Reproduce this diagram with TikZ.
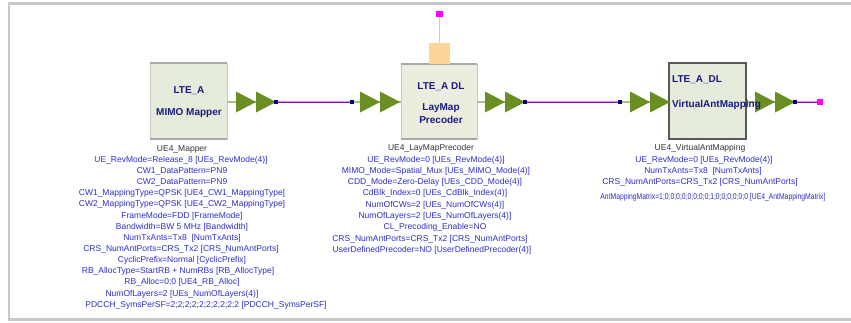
\documentclass[tikz,border=0pt]{standalone}
\usepackage{fontspec}
\setmainfont{Liberation Sans}
\definecolor{framegrey}{HTML}{C8C8C8}
\definecolor{blkA}{HTML}{E6ECDC}
\definecolor{blkB}{HTML}{ECECDF}
\definecolor{titleblue}{HTML}{1A1A80}
\definecolor{parblue}{HTML}{2E2ECC}
\definecolor{instgrey}{HTML}{333333}
\definecolor{pingreen}{HTML}{6B8E23}
\definecolor{pinwire}{HTML}{A8C080}
\definecolor{netouter}{HTML}{D890F0}
\definecolor{netinner}{HTML}{8A10C8}
\definecolor{portpink}{HTML}{FF00FF}
\definecolor{knotblue}{HTML}{000080}
\definecolor{ctrlorange}{HTML}{FCD59A}
\definecolor{ctrlwire}{HTML}{F5C47E}
\tikzset{
  partext/.style={font=\fontsize{8.5}{10}\selectfont, text=parblue, inner sep=0pt},
  insttext/.style={font=\fontsize{8.5}{10}\selectfont, text=instgrey, inner sep=0pt},
  blocktitle/.style={font=\fontsize{10}{12}\selectfont\bfseries, text=titleblue, inner sep=0pt},
  lightblock/.style={rectangle, draw=framegrey, line width=0.6pt, inner sep=0pt},
  darkblock/.style={rectangle, draw=black!65, line width=1.2pt, fill=blkA, inner sep=0pt},
  pinwireline/.style={draw=pinwire, line width=1.5pt},
  netout/.style={draw=netouter, line width=2.2pt},
  netin/.style={draw=netinner, line width=0.7pt},
  knot/.style={rectangle, fill=knotblue, minimum size=3.5pt, inner sep=0pt},
  portsq/.style={rectangle, fill=portpink, minimum size=6.5pt, inner sep=0pt},
  pics/tripair/.style={code={
    \fill[pingreen] (0,-10.5) -- (20,0) -- (0,10.5) -- cycle;
    \fill[pingreen] (20,-10.5) -- (40,0) -- (20,10.5) -- cycle;}}
}
\begin{document}
\begin{tikzpicture}[x=1pt, y=-1pt]
\useasboundingbox (0,0) rectangle (851,322);
\fill[white] (0,0) rectangle (851,322);
% outer frame
\draw[framegrey, line width=2.2pt] (851,3.5) -- (9,3.5) -- (9,319.5) -- (851,319.5);

% blocks
\node[lightblock, fill=blkA, minimum width=77pt, minimum height=76pt] (mapper) at (188.5,101) {};
\node[lightblock, fill=blkB, minimum width=76pt, minimum height=75pt] (prec) at (439,101.5) {};
\node[darkblock, minimum width=77pt, minimum height=76pt] (vam) at (707.5,101) {};
\foreach \b in {mapper,prec}{
  \draw[framegrey!85!black, line width=2.2pt] (\b.north west) -- (\b.north east);
  \draw[framegrey!85!black, line width=2.2pt] (\b.south west) -- (\b.south east);
}

% control pin on top of the precoder
\node[rectangle, fill=ctrlorange, minimum width=21pt, minimum height=21pt, inner sep=0pt] (ctrlpin) at (439.5,53.5) {};
\node[portsq] (ctrlport) at (439.5,14) {};
\draw[ctrlwire, line width=1.4pt] (ctrlpin.north) -- (ctrlport.south);

% pin end points
\coordinate (mapperPin) at (276,102);
\coordinate (precIn) at (352,102);
\coordinate (precOut) at (525,102);
\coordinate (vamIn) at (620,102);
\coordinate (vamOut) at (795,102);
\node[portsq] (term) at (820,102) {};

% pin stubs
\draw[pinwireline] (mapper.east |- mapperPin) -- (mapperPin);
\draw[pinwireline] (precIn) -- (prec.west |- precIn);
\draw[pinwireline] (prec.east |- precOut) -- (precOut);
\draw[pinwireline] (vamIn) -- (vam.west |- vamIn);
\draw[pinwireline] (vam.east |- vamOut) -- (vamOut);

% nets
\foreach \a/\b in {mapperPin/precIn, precOut/vamIn, vamOut/term}{
  \draw[netout] (\a) -- (\b);
  \draw[netin] (\a) -- (\b);
}

% port triangles
\pic at (236,102) {tripair};
\pic at (360,102) {tripair};
\pic at (485,102) {tripair};
\pic at (630,102) {tripair};
\pic at (755,102) {tripair};

% connection knots
\node[knot] (k1) at (mapperPin) {};
\node[knot] (k2) at (precIn) {};
\node[knot] (k3) at (precOut) {};
\node[knot] (k4) at (vamIn) {};
\node[knot] (k5) at (vamOut) {};

% block titles (on top of the pins)
\node[blocktitle] (mapperT1) at (189,91) {LTE\_A};
\node[blocktitle] (mapperT2) at (189,113) {MIMO Mapper};
\node[blocktitle] (precT1) at (441,87) {LTE\_A DL};
\node[blocktitle] (precT2) at (441,108) {LayMap};
\node[blocktitle] (precT3) at (441,120) {Precoder};
\node[blocktitle, anchor=west] (vamT1) at (672,80) {LTE\_A\_DL};
\node[blocktitle, anchor=west] (vamT2) at (672,105) {VirtualAntMapping};

% parameters of UE4_Mapper
\node[insttext] (m0) at (182,149) {UE4\_Mapper};
\node[partext] (m1) at (181,160.1) {UE\_RevMode=Release\_8 [UEs\_RevMode(4)]};
\node[partext] (m2) at (182,171.3) {CW1\_DataPattern=PN9};
\node[partext] (m3) at (182,182.4) {CW2\_DataPattern=PN9};
\node[partext] (m4) at (182,193.6) {CW1\_MappingType=QPSK [UE4\_CW1\_MappingType]};
\node[partext] (m5) at (182,204.7) {CW2\_MappingType=QPSK [UE4\_CW2\_MappingType]};
\node[partext] (m6) at (182,215.8) {FrameMode=FDD [FrameMode]};
\node[partext] (m7) at (182,227) {Bandwidth=BW 5 MHz [Bandwidth]};
\node[partext] (m8) at (182,238.1) {NumTxAnts=Tx8~ [NumTxAnts]};
\node[partext] (m9) at (181,249.3) {CRS\_NumAntPorts=CRS\_Tx2 [CRS\_NumAntPorts]};
\node[partext] (m10) at (182,260.4) {CyclicPrefix=Normal [CyclicPrefix]};
\node[partext] (m11) at (178,271.5) {RB\_AllocType=StartRB + NumRBs [RB\_AllocType]};
\node[partext] (m12) at (182,282.7) {RB\_Alloc=0;0 [UE4\_RB\_Alloc]};
\node[partext] (m13) at (182,293.8) {NumOfLayers=2 [UEs\_NumOfLayers(4)]};
\node[partext] (m14) at (206,305) {PDCCH\_SymsPerSF=2;2;2;2;2;2;2;2;2;2 [PDCCH\_SymsPerSF]};

% parameters of UE4_LayMapPrecoder
\node[insttext] (p0) at (431,148.5) {UE4\_LayMapPrecoder};
\node[partext] (p1) at (436,159.8) {UE\_RevMode=0 [UEs\_RevMode(4)]};
\node[partext] (p2) at (436,171.1) {MIMO\_Mode=Spatial\_Mux [UEs\_MIMO\_Mode(4)]};
\node[partext] (p3) at (435,182.4) {CDD\_Mode=Zero-Delay [UEs\_CDD\_Mode(4)]};
\node[partext] (p4) at (435,193.7) {CdBlk\_Index=0 [UEs\_CdBlk\_Index(4)]};
\node[partext] (p5) at (435,205) {NumOfCWs=2 [UEs\_NumOfCWs(4)]};
\node[partext] (p6) at (435,216.3) {NumOfLayers=2 [UEs\_NumOfLayers(4)]};
\node[partext] (p7) at (435,227.6) {CL\_Precoding\_Enable=NO};
\node[partext] (p8) at (430,238.9) {CRS\_NumAntPorts=CRS\_Tx2 [CRS\_NumAntPorts]};
\node[partext] (p9) at (432,250.2) {UserDefinedPrecoder=NO [UserDefinedPrecoder(4)]};

% parameters of UE4_VirtualAntMapping
\node[insttext] (v0) at (700,148.5) {UE4\_VirtualAntMapping};
\node[partext] (v1) at (704,159.8) {UE\_RevMode=0 [UEs\_RevMode(4)]};
\node[partext] (v2) at (703,171.1) {NumTxAnts=Tx8~ [NumTxAnts]};
\node[partext] (v3) at (700,182.4) {CRS\_NumAntPorts=CRS\_Tx2 [CRS\_NumAntPorts]};
\node[partext] (v4) at (713,197) {\scalebox{0.8}[1]{AntMappingMatrix=1;0;0;0;0;0;0;0;0;1;0;0;0;0;0;0 [UE4\_AntMappingMatrix]}};
\end{tikzpicture}
\end{document}
